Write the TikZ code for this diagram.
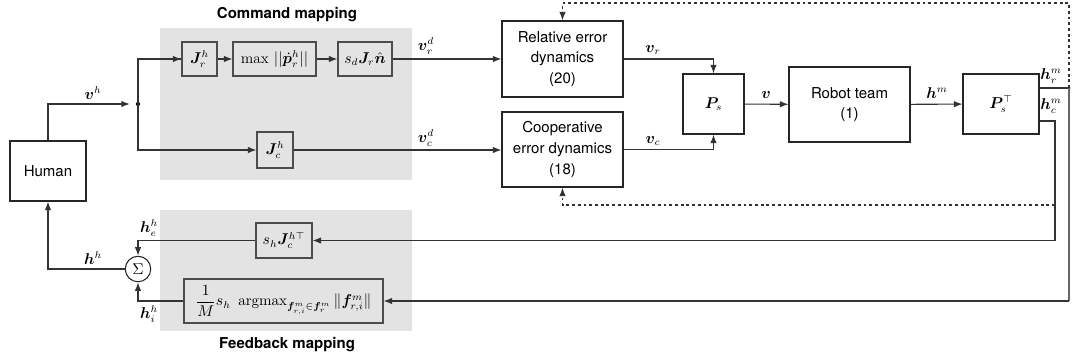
\documentclass[tikz,border=0pt]{standalone}
\usepackage{fontspec}
\setsansfont{TeX Gyre Heros}
\usepackage{amsmath,bm}
\usetikzlibrary{arrows.meta,calc}
\begin{document}
\begin{tikzpicture}[x=0.7pt,y=-0.7pt,
  font=\fontsize{10.5}{12.5}\selectfont,
  sz/.style 2 args={minimum width={#1*0.7pt},minimum height={#2*0.7pt}},
  box/.style={draw=black!85,line width=0.75pt,inner sep=0pt,align=center},
  tbox/.style={box,font=\sffamily\fontsize{10.5}{14.4}\selectfont},
  gbox/.style={box,draw=black!70},
  lbl/.style={inner sep=0pt},
  conn/.style={draw=black!80,line width=0.75pt},
  arr/.style={conn,-{Latex[length=6pt,width=4.5pt]}},
  dsh/.style={conn,dash pattern=on 2pt off 2pt},
  darr/.style={dsh,-{Latex[length=6pt,width=4.5pt]}},
  grayreg/.style={fill=black!11,draw=none},
  title/.style={font=\sffamily\bfseries\fontsize{10.5}{12}\selectfont},
  junc/.style={circle,fill=black,inner sep=0pt,minimum size=3pt}
]
\useasboundingbox (0,0) rectangle (1073,360);
% gray regions
\fill[grayreg] (160,28) rectangle (412,180);
\fill[grayreg] (160,210) rectangle (412,331);
\node[title] (tcmd) at (287,15) {Command mapping};
\node[title] (tfb) at (287,345) {Feedback mapping};

% nodes
\node[tbox,sz={76}{60}] (human) at (48,171) {Human};
\node[junc] (dot) at (138,104) {};
\node[gbox,sz={35}{34}] (Jr) at (199.5,59) {$\bm{J}_r^h$};
\node[gbox,sz={83}{34}] (mx) at (274.5,59) {$\max\,||\dot{\bm{p}}_r^h||$};
\node[gbox,sz={54}{34}] (sd) at (365,59) {$s_d\bm{J}_r\hat{\bm{n}}$};
\node[gbox,sz={36}{36}] (Jc) at (275,150) {$\bm{J}_c^h$};
\node[tbox,sz={121}{76}] (rel) at (562.5,59) {Relative error\\dynamics\\(20)};
\node[tbox,sz={121}{75}] (coop) at (562.5,149.5) {Cooperative\\error dynamics\\(18)};
\node[box,sz={61}{60}] (Ps) at (713.5,104) {$\bm{P}_s$};
\node[tbox,sz={121}{75}] (robot) at (849.5,104.5) {Robot team\\(1)};
\node[box,sz={76}{60}] (PsT) at (1001,104) {$\bm{P}_s^\top$};
\node[gbox,sz={56}{35}] (shJ) at (284,240.5) {$s_h\bm{J}_c^{h\top}$};
\node[gbox,sz={199}{44}] (amax) at (283.5,301) {$\dfrac{1}{M}s_h\ \operatorname{argmax}_{\bm{f}_{r,i}^m\in\bm{f}_r^m}\|\bm{f}_{r,i}^m\|$};
\node[circle,draw=black!85,line width=0.75pt,minimum size={25.5*0.7pt},inner sep=0pt] (sum) at (138,269) {$\Sigma$};

% coordinates
\coordinate (hr) at (1069,88);
\coordinate (hcc) at (1055,121);
\node[junc,minimum size=2.4pt] (hrdot) at (hr) {};

% forward connectors
\draw[arr] (human.north) |- ([xshift=-4pt]dot.west);
\draw[conn] (dot.center) |- ([xshift=-0.2pt]Jr.west);
\draw[arr] (dot.center |- Jr.west) -- (Jr.west);
\draw[arr] (dot.center) |- (Jc.west);
\draw[arr] (Jr) -- (mx);
\draw[arr] (mx) -- (sd);
\draw[arr] (sd.east) -- (sd.east -| rel.west);
\draw[arr] (Jc.east) -- (Jc.east -| coop.west);
\draw[arr] (rel.east) -| (Ps.north);
\draw[arr] (rel.east |- coop.east) -| (Ps.south);
\draw[arr] (Ps) -- (robot);
\draw[arr] (robot) -- (PsT);
\draw[conn] (PsT.east |- hr) -- (hr);
\draw[conn] (PsT.east |- hcc) -- (hcc) -- (1055,240.5);
\draw[arr] (1055,240.5) -- (shJ.east);
\draw[conn,draw=black!60] (hr) -- (1069,301);
\draw[arr] (1069,301) -- (amax.east);
\draw[darr] (hr) -- (1069,3) -| (rel.north);
\draw[darr] (1055,205) -| (coop.south);
\draw[arr] (shJ.west) -| (sum.north);
\draw[arr] (amax.west) -| (sum.south);
\draw[arr] (sum.west) -| (human.south);

% labels
\node[lbl] (lvh) at (93,93) {$\bm{v}^h$};
\node[lbl] (lvrd) at (426,46) {$\bm{v}_r^d$};
\node[lbl] (lvcd) at (426,138) {$\bm{v}_c^d$};
\node[lbl] (lvr) at (653,50) {$\bm{v}_r$};
\node[lbl] (lvc) at (653,141) {$\bm{v}_c$};
\node[lbl] (lv) at (766,95) {$\bm{v}$};
\node[lbl] (lhm) at (937,93) {$\bm{h}^m$};
\node[lbl] (lhrm) at (1051,76) {$\bm{h}_r^m$};
\node[lbl] (lhcm) at (1051,106) {$\bm{h}_c^m$};
\node[lbl] (lheh) at (149,228) {$\bm{h}_e^h$};
\node[lbl] (lhih) at (149,314) {$\bm{h}_i^h$};
\node[lbl] (lhh) at (93,258) {$\bm{h}^h$};
\end{tikzpicture}
\end{document}
